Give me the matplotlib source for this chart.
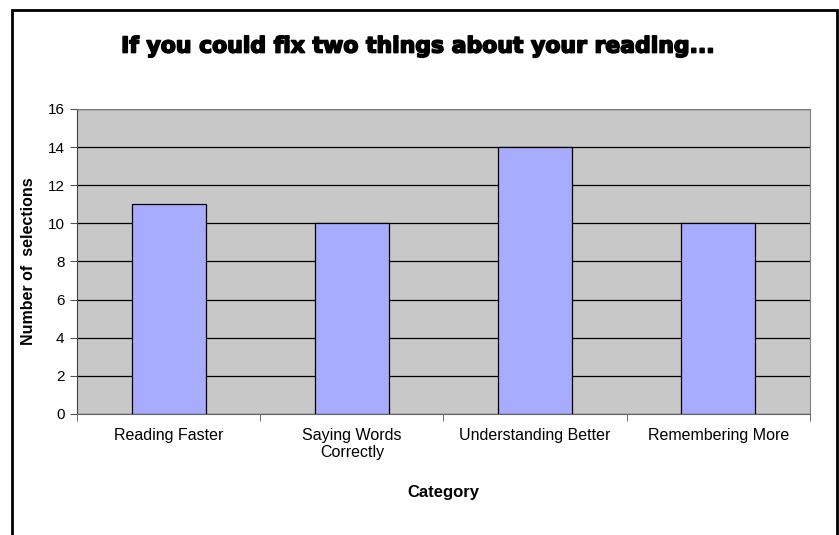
import numpy as np
import matplotlib.pyplot as plt
import matplotlib.patheffects as pe
from matplotlib.patches import Rectangle

# survey answers
categories = ["Reading Faster", "Saying Words\nCorrectly",
              "Understanding Better", "Remembering More"]
selections = [11, 10, 14, 10]
y_ticks = [0, 2, 4, 6, 8, 10, 12, 14, 16]

plt.rcParams['font.family'] = ['Liberation Sans', 'DejaVu Sans']

fig = plt.figure(figsize=(8.39, 5.35), dpi=100)
ax = fig.add_axes([0.0918, 0.2262, 0.8736, 0.5701])

x = np.arange(len(categories))
ax.bar(x, selections, width=0.405, color="#A8ACFF",
       edgecolor="black", linewidth=0.9, zorder=3)

ax.set_facecolor("#C8C8C8")
ax.set_xlim(-0.5, len(categories) - 0.5)
ax.set_ylim(0, 16)
ax.set_yticks(y_ticks)
ax.yaxis.grid(True, color="black", linewidth=0.9, zorder=1)
ax.set_axisbelow(True)

ax.set_xticks(x)
ax.set_xticklabels(categories, fontsize=11.5, linespacing=1.15)
ax.set_xticks(np.arange(len(categories) + 1) - 0.5, minor=True)
ax.tick_params(axis="x", which="major", length=0, pad=10)
ax.tick_params(axis="x", which="minor", length=5, color="#555555")
ax.tick_params(axis="y", length=5, color="#555555", labelsize=11, pad=4)

for side in ["top", "right"]:
    ax.spines[side].set_color("#808080")
ax.spines["left"].set_color("#444444")
ax.spines["bottom"].set_color("#666666")

ax.set_ylabel("Number of  selections", fontsize=11.5, fontweight="bold",
              labelpad=8)
ax.set_xlabel("Category", fontsize=12, fontweight="bold", labelpad=18)

fig.text(0.5, 0.913, "If you could fix two things about your reading...",
         ha="center", va="center", fontsize=15.8, fontweight="bold",
         family="DejaVu Sans",
         path_effects=[pe.withStroke(linewidth=1.2, foreground="black")])

# outer chart frame
frame = Rectangle((11.5 / 839, -0.1), (837 - 11.5) / 839, 1.1 - 10 / 535,
                  transform=fig.transFigure, fill=False,
                  edgecolor="black", linewidth=2, clip_on=False)
fig.patches.append(frame)

fig.savefig("out.png", dpi=100, facecolor="white")
